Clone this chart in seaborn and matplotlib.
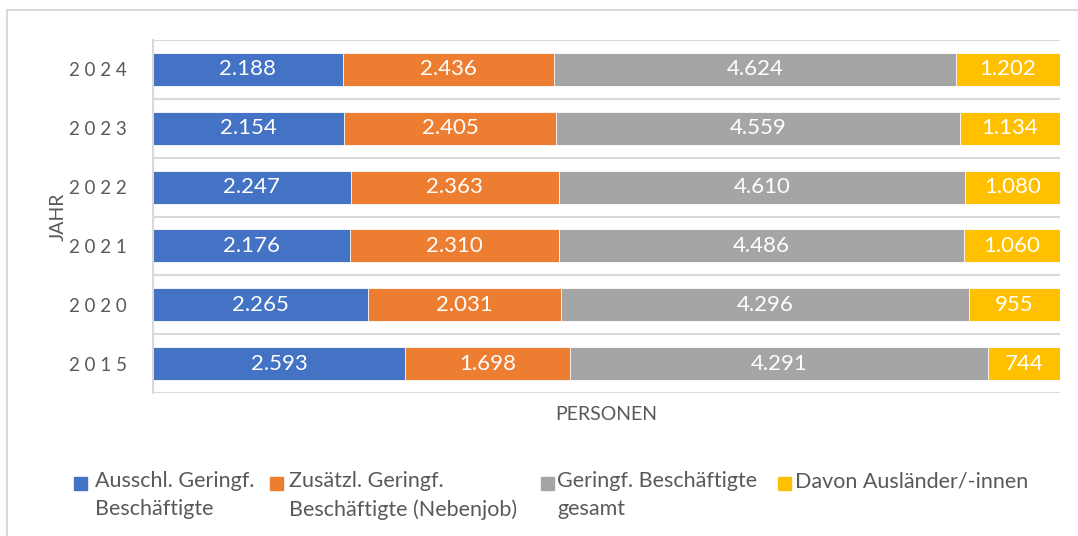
import matplotlib
matplotlib.use("Agg")
import matplotlib.pyplot as plt
import seaborn as sns
import pandas as pd
import numpy as np
from matplotlib.patches import Rectangle
from matplotlib.lines import Line2D

# ---- data ----
years = ["2024", "2023", "2022", "2021", "2020", "2015"]
ausschl = [2188, 2154, 2247, 2176, 2265, 2593]
zusaetzl = [2436, 2405, 2363, 2310, 2031, 1698]
gesamt = [4624, 4559, 4610, 4486, 4296, 4291]
auslaender = [1202, 1134, 1080, 1060, 955, 744]
series_names = ["Ausschl. Geringf.\nBeschäftigte",
                "Zusätzl. Geringf.\nBeschäftigte (Nebenjob)",
                "Geringf. Beschäftigte\ngesamt",
                "Davon Ausländer/-innen"]
colors = ["#4472C4", "#ED7D31", "#A5A5A5", "#FFC000"]
y_title = "JAHR"
x_title = "PERSONEN"

sns.set_theme(style="white")
plt.rcParams['font.family'] = ['Lato', 'DejaVu Sans']
TXT = "#595959"
GRID = "#D9D9D9"

W, H = 1078, 536
fig = plt.figure(figsize=(W / 100, H / 100), dpi=100)
fig.patch.set_facecolor("white")

# chart frame (left and top edges visible)
fig.add_artist(Line2D([7 / W, 7 / W], [0, 1 - 10 / H], transform=fig.transFigure, color=GRID, lw=1.5))
fig.add_artist(Line2D([7 / W, 1], [1 - 10 / H, 1 - 10 / H], transform=fig.transFigure, color=GRID, lw=1.5))

ax = fig.add_axes([153 / W, 1 - 393 / H, 907 / W, 353 / H])

vals = np.array([ausschl, zusaetzl, gesamt, auslaender], dtype=float)
totals = vals.sum(axis=0)
shares = vals / totals
cum = np.cumsum(shares, axis=0)
starts = cum - shares

# category separator gridlines
for b in np.arange(-0.5, len(years), 1.0):
    ax.axhline(b, color=GRID, lw=1.5, zorder=0)

for k in range(3, -1, -1):
    df = pd.DataFrame({"Jahr": years, "Anteil": cum[k]})
    sns.barplot(data=df, x="Anteil", y="Jahr", order=years, color=colors[k],
                orient="h", width=0.56, edgecolor="white", linewidth=0.6,
                saturation=1, errorbar=None, ax=ax, zorder=2)

def fmt(v):
    return f"{int(v):,}".replace(",", ".")

for k in range(4):
    for i in range(len(years)):
        ax.text(starts[k, i] + shares[k, i] / 2, i, fmt(vals[k, i]),
                ha="center", va="center", color="white", fontsize=16, zorder=5)

ax.set_xlim(0, 1)
ax.set_ylim(len(years) - 0.5, -0.5)
ax.set_xticks([])
ax.set_yticks(range(len(years)))
ax.set_yticklabels([" ".join(y) for y in years], color=TXT, fontsize=13.5)
ax.tick_params(axis="y", length=0, pad=19)
for s in ["top", "right", "bottom"]:
    ax.spines[s].set_visible(False)
ax.spines["left"].set_color(GRID)
ax.spines["left"].set_linewidth(1.5)

ax.set_xlabel(x_title, color=TXT, fontsize=14, labelpad=9)
ax.set_ylabel(y_title, color=TXT, fontsize=14)
ax.yaxis.set_label_coords(-(153 - 67) / 907, 0.5)

# legend (manual, handles aligned with first text line)
mark_x = [74, 270, 541, 778]
text_x = [95, 289, 557, 795]
for k in range(4):
    fig.add_artist(Rectangle((mark_x[k] / W, 1 - 490 / H), 13 / W, 13 / H,
                             transform=fig.transFigure, color=colors[k]))
    fig.text(text_x[k] / W, 1 - 471 / H, series_names[k], ha="left", va="top",
             color=TXT, fontsize=15.5, linespacing=1.5)

fig.savefig("out.png", dpi=100, facecolor="white")
